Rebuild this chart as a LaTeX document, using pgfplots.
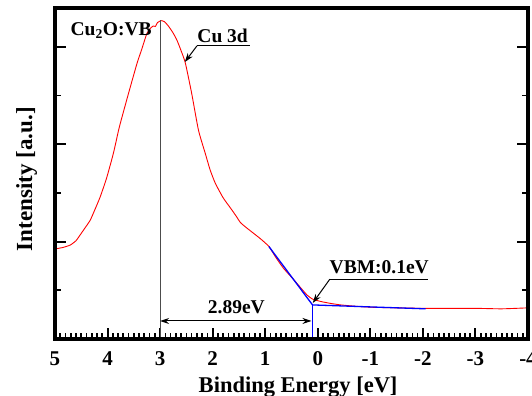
\documentclass[border=0pt]{standalone}
\usepackage{pgfplots}
\pgfplotsset{compat=1.18}
\usepackage{fontspec}
\setmainfont{Liberation Serif}
\usetikzlibrary{arrows.meta,calc}
\begin{document}
\begin{tikzpicture}
\begin{axis}[
  scale only axis, width=473pt, height=331pt,
  x dir=reverse, xmin=-4, xmax=5, ymin=0, ymax=6.8,
  xtick={-4,-3,-2,-1,0,1,2,3,4,5},
  xticklabels={-4,-3,-2,-1,0,1,2,3,4,5},
  minor x tick num=9,
  ytick={2,4,6}, minor ytick={1,3,5}, yticklabels={},
  xtick pos=left, ytick pos=both,
  tick align=inside,
  major tick length=11pt, minor tick length=6pt,
  major tick style={black, line width=2pt},
  minor tick style={black, line width=1.7pt},
  xticklabel style={font=\fontsize{21}{22}\selectfont\bfseries, yshift=-9pt},
]
\addplot[red, line width=0.9pt, smooth, tension=0.35] coordinates {
(5.00,1.85) (4.95,1.86) (4.85,1.88) (4.71,1.93) (4.60,2.02) (4.52,2.14)
(4.43,2.28) (4.33,2.44) (4.24,2.66) (4.14,2.92) (4.02,3.30) (3.89,3.81)
(3.79,4.29) (3.74,4.50) (3.60,5.05) (3.44,5.66) (3.35,5.95) (3.25,6.28)
(3.17,6.40) (3.13,6.43) (3.09,6.42) (3.05,6.50) (2.98,6.54) (2.92,6.52)
(2.85,6.44) (2.76,6.30) (2.68,6.14) (2.60,5.92) (2.52,5.67) (2.40,5.05)
(2.27,4.29) (2.14,3.81) (2.05,3.48) (1.95,3.20) (1.80,2.90) (1.66,2.69)
(1.55,2.52) (1.47,2.39) (1.35,2.28) (1.22,2.17) (1.08,2.05) (0.93,1.90)
(0.80,1.68) (0.65,1.45) (0.45,1.21) (0.30,1.02) (0.20,0.90) (0.10,0.82)
(-0.06,0.77) (-0.25,0.73) (-0.44,0.70) (-0.75,0.67) (-1.07,0.65)
(-1.50,0.64) (-2.00,0.63) (-2.35,0.63) (-3.00,0.63) (-3.50,0.62) (-4.00,0.64)
};
\addplot[blue, line width=1.3pt] coordinates {(0.93,1.90) (0.10,0.70) (-2.05,0.62)};
\addplot[blue, line width=1.3pt] coordinates {(0.10,0.70) (0.10,0)};
\addplot[black!70, line width=0.8pt] coordinates {(3,0) (3,6.55)};
\node[anchor=west, font=\fontsize{19.5}{20}\selectfont\bfseries] at (axis cs:4.77,6.34) {Cu\textsubscript{2}O:VB};
\node[font=\fontsize{19.5}{20}\selectfont\bfseries] at (axis cs:1.81,6.22) {Cu 3d};
\draw[line width=1pt] (axis cs:1.29,6.02) -- (axis cs:2.30,6.02);
\draw[line width=1pt, -{Stealth[length=9pt,width=6pt]}] (axis cs:2.30,6.02) -- (axis cs:2.53,5.69);
\node[font=\fontsize{19.5}{20}\selectfont\bfseries] at (axis cs:-1.17,1.48) {VBM:0.1eV};
\draw[line width=1pt] (axis cs:-0.23,1.23) -- (axis cs:-2.09,1.23);
\draw[line width=1pt, -{Stealth[length=9pt,width=6pt]}] (axis cs:-0.23,1.23) -- (axis cs:0.095,0.74);
\draw[line width=1pt, {Stealth[length=9pt,width=6pt]}-{Stealth[length=9pt,width=6pt]}] (axis cs:3,0.37) -- (axis cs:0.12,0.37);
\node[font=\fontsize{19.5}{20}\selectfont\bfseries] at (axis cs:1.55,0.66) {2.89eV};
\coordinate (SW) at (rel axis cs:0,0);
\coordinate (NE) at (rel axis cs:1,1);
\end{axis}
\draw[line width=3.2pt] (SW) rectangle (NE);
\node[rotate=90, anchor=base, font=\fontsize{23}{24}\selectfont\bfseries] at ([xshift=-23pt]$(SW)!0.483!(SW|-NE)$) {Intensity [a.u.]};
\node[anchor=base, font=\fontsize{22.5}{24}\selectfont\bfseries] at ([yshift=-54pt]$(SW)!0.514!(NE|-SW)$) {Binding Energy [eV]};
\pgfresetboundingbox
\path[use as bounding box] ([xshift=-55pt,yshift=-57pt]SW) rectangle ([xshift=4pt,yshift=8pt]NE);
\end{tikzpicture}
\end{document}
